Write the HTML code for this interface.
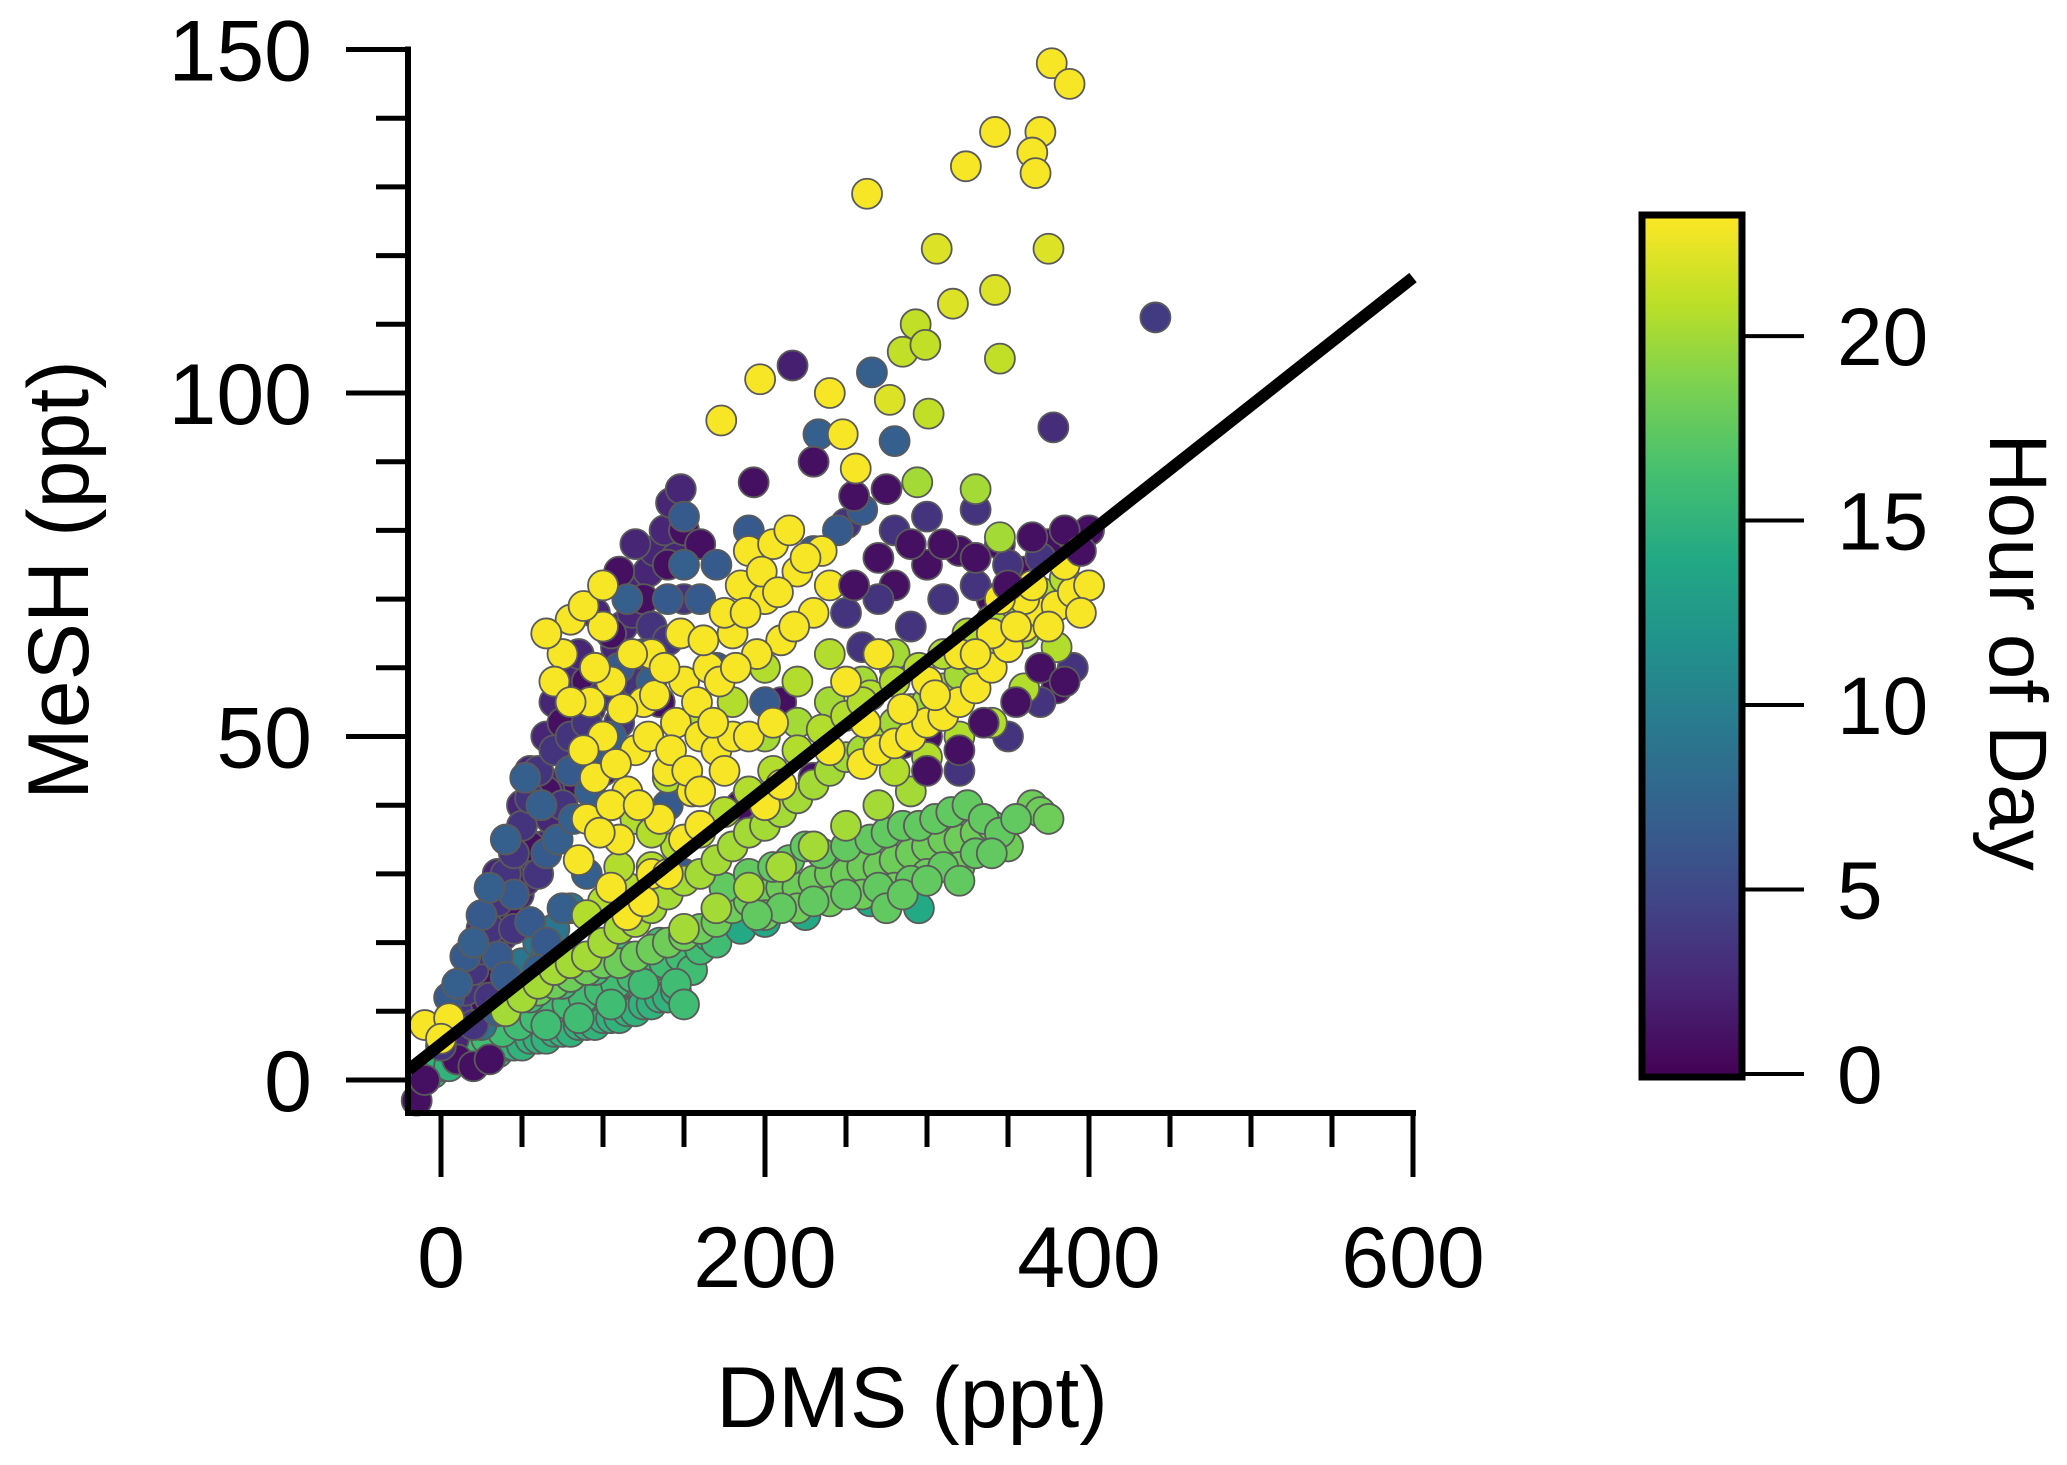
<!DOCTYPE html>
<html><head><meta charset="utf-8"><style>
html,body{margin:0;padding:0;background:#fff;}
svg{display:block;font-family:"Liberation Sans",Arial,sans-serif;}
</style></head><body>
<svg id="chart" width="2067" height="1465" viewBox="0 0 2067 1465" xmlns="http://www.w3.org/2000/svg">
<defs>
<linearGradient id="vir" x1="0" y1="1" x2="0" y2="0">
<stop offset="0" stop-color="#440154"/><stop offset="0.1" stop-color="#482475"/><stop offset="0.2" stop-color="#414487"/><stop offset="0.3" stop-color="#355f8d"/><stop offset="0.4" stop-color="#2a788e"/><stop offset="0.5" stop-color="#21918c"/><stop offset="0.6" stop-color="#22a884"/><stop offset="0.7" stop-color="#44bf70"/><stop offset="0.8" stop-color="#7ad151"/><stop offset="0.9" stop-color="#bddf26"/><stop offset="1" stop-color="#fde725"/>
</linearGradient>
</defs>
<g id="points"></g>
<g id="axes"></g>
<g id="cbar"></g>
</svg>
<script>
// ---- data (DMS ppt, MeSH ppt, hour of day) ----
const g1Dms=[-5,0,5,10,15,20,25,30,35,40,45,50,55,60,65,70,75,80,85,90,95,100,105,110,115,120,125,130,135,140,145,20,30,40,50,60,70,80,90,100,110];
const g1Mesh=[1,2,2,3,3,3,4,4,4,5,5,5,6,6,6,7,7,7,8,8,8,9,9,9,10,10,11,11,12,12,13,6,7,8,9,10,11,11,12,13,14];
const g1Hour=15;
const gGDms=[8,18,28,38,48,58,68,78,88,98,108,118,128,138,148,155,160,165,170,55,75,95,115,135,145,150,125,105,85,65];
const gGMesh=[4,5,6,7,8,9,10,11,12,13,14,15,16,17,18,16,19,21,20,12,14,16,18,20,14,11,14,11,9,8];
const gGHour=16;
const g3Dms=[225,265,295,320,315,185,200];
const g3Mesh=[24,26,25,31,34,22,23];
const g3Hour=14;
const g2Dms=[60,70,80,90,100,110,120,130,140,150,160,170,180,190,200,210,220,230,240,250,260,270,280,290,300,310,320,330,340,200,220,240,260,280,300,320,350,365,370,375];
const g2Mesh=[13,14,15,16,17,17,18,19,20,21,22,23,25,26,27,28,28,29,30,30,31,31,32,33,34,35,35,36,37,24,25,26,27,28,30,31,34,40,39,38];
const g2Hour=18;
const gLDms=[175,190,205,215,225,235,250,265,275,285,295,305,315,325,335,345,330,310,290,270,250,230,210,195,355,275,285,300,320,340];
const gLMesh=[28,30,31,32,34,33,34,35,36,37,37,38,39,40,38,36,33,31,29,28,27,26,25,24,38,25,27,29,29,33];
const gLHour=17.5;
const gTDms=[10,20,30,40,50,60,25,45,65,70,80];
const gTMesh=[8,10,12,15,17,20,8,12,18,22,25];
const gTHour=9;
const g6Dms=[-15,-10,10,20,30,15,25,40,55,65,75,90,105,115,125,140,150,160,135,100,85,110,210,230,280,300,320,340,360,375,390,400,345,380,300,285,185];
const g6Mesh=[-3,0,3,2,3,10,15,25,34,42,52,58,65,60,70,75,80,78,55,45,43,74,55,44,72,75,77,70,74,78,79,80,78,57,50,49,40];
const g6Hour=1;
const gPDms=[8,12,18,22,28,32,38,42,48,52,58,62,68,72,78,82,88,92,98,102,108,112,118,122,128,132,138,145,35,50,65,80,95,110,25,55,70,85,120,142,148];
const gPMesh=[6,9,12,13,16,18,21,23,27,29,32,34,38,41,44,46,50,54,57,60,63,66,68,72,74,77,80,76,30,40,50,58,68,58,22,45,55,62,78,84,86];
const gPHour=2.5;
const g7Dms=[0,5,10,15,20,25,30,35,40,45,50,55,60,70,80,90,100,110,120,130,140,150,45,60,75,30,20,250,270,290,310,330,350,370,260,320,350,370,390,280,300,330,250];
const g7Mesh=[5,8,10,13,16,19,22,26,30,33,37,41,45,48,50,52,56,52,58,66,64,70,22,30,40,12,8,68,70,66,70,72,75,76,63,45,50,55,60,80,82,83,81];
const g7Hour=3.5;
const g8Dms=[5,15,25,35,45,55,65,80,95,110,125,140,150,160,170,230,245,260,140,150,200,40,65,170,190,280];
const g8Mesh=[12,18,24,18,27,23,33,45,48,60,62,70,82,70,75,77,80,83,40,30,55,15,20,60,80,60];
const g8Hour=6.5;
const gBDms=[10,20,30,40,52,62,72,82,92,105,115,130,150,60,50,35,75,90];
const gBMesh=[14,20,28,35,44,40,35,38,42,50,70,58,75,16,12,10,25,30];
const gBHour=7;
const g4Dms=[40,50,60,70,80,90,100,110,120,130,140,150,160,170,180,190,200,210,220,230,240,250,260,270,280,290,300,310,320,330,340,350,360,370,380,390,400,150,170,190,210,230,250,270,290,200,220,240,260,280,330,345,360];
const g4Mesh=[10,12,14,16,17,18,20,22,23,25,27,29,30,32,34,36,37,39,41,43,45,47,48,50,52,54,55,57,59,61,62,64,66,67,69,70,72,22,25,28,31,34,37,40,42,50,52,55,58,62,86,79,65];
const g4Hour=20;
const gYGDms=[100,115,130,145,160,175,190,205,220,235,250,265,280,295,310,325,340,355,370,385,120,140,160,180,200,220,240,260,280,300,320,340,360,380,90,110,130];
const gYGMesh=[26,28,31,34,36,39,42,45,48,51,53,56,58,60,62,65,67,69,71,73,38,44,52,55,60,58,62,55,45,47,50,52,57,63,24,31,36];
const gYGHour=20.5;
const g5Dms=[85,90,95,100,105,110,115,120,125,130,135,140,145,150,155,160,165,95,100,105,130,150,170,75,80,88,180,185,190,200,205,210,220,230,195,215,235,260,270,280,290,300,310,320,330,340,350,360,370,380,390,400,300,320,340,360,-10,5,0,200,210,180,160,240,250,270];
const g5Mesh=[32,38,44,50,58,35,42,48,55,62,38,45,52,58,42,50,60,60,66,40,30,35,48,62,67,69,65,72,77,70,78,64,74,68,62,80,77,46,48,49,50,52,53,55,57,60,63,66,68,69,71,72,58,62,65,70,8,9,6,40,43,50,37,48,58,62];
const g5Hour=23;
const gYDms=[88,92,98,108,112,118,122,128,132,138,142,148,152,158,162,168,172,175,182,188,198,208,218,225,240,70,80,65,100,105,115,125,140,160,175,190,205,262,285,305,330,355,375,395,385,365,345];
const gYMesh=[48,55,36,46,54,62,40,50,56,60,48,65,45,55,64,52,58,68,60,68,74,71,66,76,72,58,55,65,72,28,24,26,30,42,45,50,52,52,54,56,62,66,66,68,75,72,70];
const gYHour=23;
const gDDms=[310,330,350,365,385,395,270,290,255,300,320,335,355,370,385,255,275];
const gDMesh=[78,76,72,79,80,77,76,78,72,45,48,52,55,60,58,85,86];
const gDHour=1;
const outDms=[377,388,342,370,365,367,324,263,375,306,316,342,293,285,299,345,217,266,197,240,277,301,173,441,378,280,233,248,230,256,193,294];
const outMesh=[148,145,138,138,135,132,133,129,121,121,113,115,110,106,107,105,104,103,102,100,99,97,96,111,95,93,94,94,90,89,87,87];
const outHour=[23,23,23,23,23,23,23,23,22,22,22,22,21,21,21,21,2,7,23,23,22,21,23,4,3,7,7,23,1,23,1,20];
const fitSlope=0.186, fitIntercept=5.2;
const xTicks=[0,200,400,600];
const yTicks=[0,50,100,150];
const cTicks=[0,5,10,15,20];
const hourMax=23.2;

// ---- scales ----
const X0=441, XS=1.62, Y0=1080, YS=6.87;
const sx=v=>X0+v*XS, sy=v=>Y0-v*YS;
const CB_TOP=218, CB_BOT=1074;
const sc=v=>CB_BOT-(v/hourMax)*(CB_BOT-CB_TOP);
const stops=["#440154","#482475","#414487","#355f8d","#2a788e","#21918c","#22a884","#44bf70","#7ad151","#bddf26","#fde725"];
function hx(h){return [1,3,5].map(i=>parseInt(h.substr(i,2),16));}
function viridis(t){t=Math.max(0,Math.min(1,t));const p=t*10,i=Math.min(9,Math.floor(p)),f=p-i;const a=hx(stops[i]),b=hx(stops[i+1]);return "rgb("+a.map((c,k)=>Math.round(c+(b[k]-c)*f)).join(",")+")";}
const NS="http://www.w3.org/2000/svg";
function mk(tag,attrs,parent){const e=document.createElementNS(NS,tag);for(const k in attrs)e.setAttribute(k,attrs[k]);parent.appendChild(e);return e;}
const P=document.getElementById("points"),A=document.getElementById("axes"),C=document.getElementById("cbar");

function drawGroup(xs,ys,hourOf){
  xs.forEach((x,i)=>{
    const h=typeof hourOf==="number"?hourOf:hourOf[i];
    const c=mk("circle",{cx:sx(x),cy:sy(ys[i]),r:15,fill:viridis(h/hourMax),stroke:"#5a5a5a","stroke-width":1.8},P);
    
    
  });
}
drawGroup(g1Dms,g1Mesh,g1Hour);
drawGroup(gGDms,gGMesh,gGHour);
drawGroup(g3Dms,g3Mesh,g3Hour);
drawGroup(g2Dms,g2Mesh,g2Hour);
drawGroup(gLDms,gLMesh,gLHour);
drawGroup(gTDms,gTMesh,gTHour);
drawGroup(gPDms,gPMesh,gPHour);
drawGroup(g6Dms,g6Mesh,g6Hour);
drawGroup(g7Dms,g7Mesh,g7Hour);
drawGroup(g8Dms,g8Mesh,g8Hour);
drawGroup(gBDms,gBMesh,gBHour);
drawGroup(g4Dms,g4Mesh,g4Hour);
drawGroup(gYGDms,gYGMesh,gYGHour);
drawGroup(g5Dms,g5Mesh,g5Hour);
drawGroup(gYDms,gYMesh,gYHour);
drawGroup(gDDms,gDMesh,gDHour);
drawGroup(outDms,outMesh,outHour);

// fit line
const fl=mk("line",{x1:sx(-20),y1:sy(fitIntercept+fitSlope*-20),x2:sx(600),y2:sy(fitIntercept+fitSlope*600),stroke:"#000","stroke-width":12},A);



// axes lines
const ya=mk("line",{x1:408,y1:sy(150)-3,x2:408,y2:1116,stroke:"#000","stroke-width":6},A);


const xa=mk("line",{x1:405,y1:1113,x2:sx(600)+3,y2:1113,stroke:"#000","stroke-width":6},A);



for(let v=0;v<=150;v+=10){
  const major=v%50===0;
  const t=mk("line",{x1:major?346:376,y1:sy(v),x2:408,y2:sy(v),stroke:"#000","stroke-width":5},A);
  
  
}
yTicks.forEach(v=>{
  const t=mk("text",{x:312,y:sy(v)+31,"text-anchor":"end","font-size":86},A);
  t.textContent=v;
  
  
});
for(let v=0;v<=600;v+=50){
  const major=v%200===0;
  const t=mk("line",{x1:sx(v),y1:1113,x2:sx(v),y2:major?1177:1147,stroke:"#000","stroke-width":5},A);
  
  
}
xTicks.forEach(v=>{
  const t=mk("text",{x:sx(v),y:1287,"text-anchor":"middle","font-size":86},A);
  t.textContent=v;
  
  
});
const xt=mk("text",{x:912,y:1427,"text-anchor":"middle","font-size":86},A);
xt.textContent="DMS (ppt)";


const yt=mk("text",{x:0,y:0,"text-anchor":"middle","font-size":86,transform:"translate(88,580) rotate(-90)"},A);
yt.textContent="MeSH (ppt)";



// colorbar
const cr=mk("rect",{x:1642,y:215,width:100,height:862,fill:"url(#vir)",stroke:"#000","stroke-width":7},C);


cTicks.forEach(v=>{
  const t=mk("line",{x1:1745,y1:sc(v),x2:1804,y2:sc(v),stroke:"#000","stroke-width":4},C);
  
  
  const l=mk("text",{x:1837,y:sc(v)+29,"font-size":82},C);
  l.textContent=v;
  
  
});
const ct=mk("text",{x:0,y:0,"text-anchor":"middle","font-size":82,transform:"translate(1990,652) rotate(90)"},C);
ct.textContent="Hour of Day";


</script>
</body></html>
